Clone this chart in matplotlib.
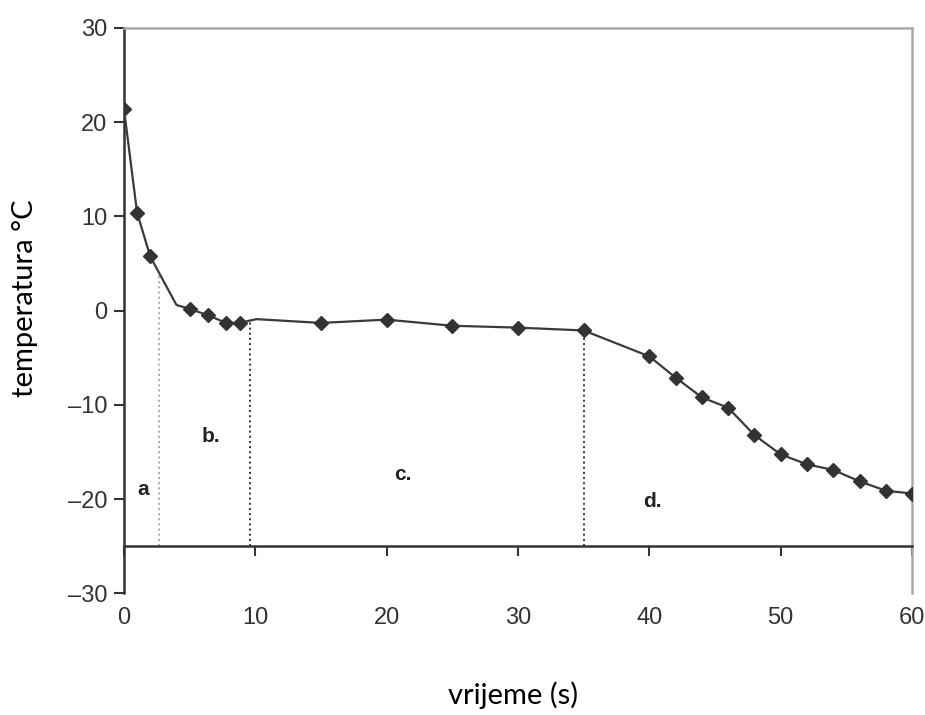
import matplotlib.pyplot as plt

# cooling curve
time_s = [0, 1, 2, 4, 5, 6.4, 7.8, 8.8, 10.1, 15, 20, 25, 30, 35,
          40, 42, 44, 46, 48, 50, 52, 54, 56, 58, 60]
temp_c = [21.4, 10.4, 5.75, 0.6, 0.2, -0.5, -1.3, -1.3, -0.9, -1.3, -0.95, -1.6, -1.8, -2.1,
          -4.85, -7.1, -9.2, -10.3, -13.2, -15.25, -16.3, -16.9, -18.1, -19.1, -19.4]
marked = [i for i in range(len(time_s)) if i not in (3, 8)]

# phase borders (x, top of dotted line, colour)
border_x = [2.65, 9.6, 35]
border_top = [4.0, -0.9, -2.1]
border_col = ['#aaaaaa', '#333333', '#333333']

phase_labels = ['a', 'b.', 'c.', 'd.']
phase_x = [1.45, 6.6, 21.2, 40.2]
phase_y = [-19.0, -13.3, -17.4, -20.2]

xticks = [0, 10, 20, 30, 40, 50, 60]
yticks = [30, 20, 10, 0, -10, -20, -30]

fig = plt.figure(figsize=(9.25, 7.15), dpi=100)
ax = fig.add_axes([0.134, 0.170, 0.852, 0.791])

ax.plot(time_s, temp_c, color='#3a3a3a', lw=1.6, marker='D', ms=7,
        markevery=marked, mfc='#333333', mec='#333333', zorder=3)

for bx, bt, bc in zip(border_x, border_top, border_col):
    ax.plot([bx, bx], [-25, bt], color=bc, ls=':', lw=1.4, zorder=2)

for lab, lx, ly in zip(phase_labels, phase_x, phase_y):
    ax.text(lx, ly, lab, fontsize=15, fontweight='bold', color='#222222',
            ha='center', va='center', family='Liberation Sans')

ax.set_xlim(0, 60)
ax.set_ylim(-30, 30)
ax.set_xticks(xticks)
ax.set_yticks(yticks)
ax.set_yticklabels([str(t).replace('-', '\u2013') for t in yticks])

ax.spines['bottom'].set_position(('data', -25))
ax.spines['bottom'].set_color('#333333')
ax.spines['bottom'].set_linewidth(1.8)
ax.spines['left'].set_color('#333333')
ax.spines['left'].set_linewidth(1.8)
for s in ('top', 'right'):
    ax.spines[s].set_color('#aaaaaa')
    ax.spines[s].set_linewidth(1.8)

ax.tick_params(axis='both', direction='out', length=7, width=1.5, color='#333333',
               labelsize=17, labelcolor='#333333')
ax.tick_params(axis='x', pad=37)
ax.tick_params(axis='y', pad=5)
for lbl in ax.get_xticklabels() + ax.get_yticklabels():
    lbl.set_family('Liberation Sans')

fig.text(0.027, 0.583, 'temperatura \u00b0C', rotation=90, ha='center', va='center',
         fontsize=21, family=['Lato', 'DejaVu Sans'])
fig.text(0.555, 0.028, 'vrijeme (s)', ha='center', va='center',
         fontsize=21, family=['Lato', 'DejaVu Sans'])

fig.savefig('out.png', dpi=100)
